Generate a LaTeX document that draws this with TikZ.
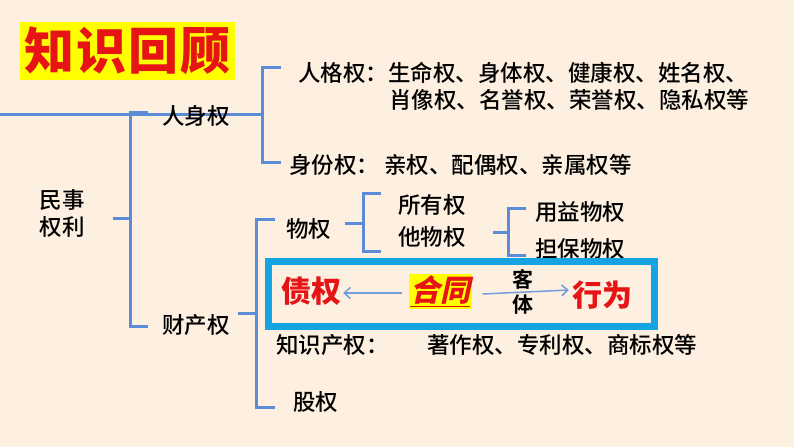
\documentclass[tikz,border=0pt]{standalone}
\usepackage{fontspec}
\setmainfont{Noto Sans CJK SC Medium}
\newfontfamily\cuti{Noto Sans CJK SC Black}
\newfontfamily\jiacu{Noto Sans CJK SC Bold}
\newfontfamily\xieti{Noto Sans CJK SC Black}[FakeSlant=0.22]
\usetikzlibrary{arrows.meta}
\definecolor{beige}{RGB}{253,240,224}
\definecolor{zhixian}{RGB}{92,140,214}
\definecolor{kuang}{RGB}{22,163,226}
\definecolor{hongzi}{RGB}{230,20,20}
\definecolor{huang}{RGB}{255,255,0}

\begin{document}
\begin{tikzpicture}[line cap=butt,line join=miter,x=1pt,y=-1pt,
    zhi/.style={line width=3pt,color=zhixian},
    wen/.style={anchor=west,inner sep=0pt,font=\fontsize{22.5}{27}\selectfont},
    hong/.style={inner sep=0pt,text=hongzi,font=\fontsize{30}{34}\cuti},
    jiantou/.style={line width=1.5pt,color=zhixian!85,-{Straight Barb[length=6pt,width=11pt]}}]
    \fill[beige] (0,0) rectangle (794,447);
    \useasboundingbox (0,0) rectangle (794,447);

    % title
    \node[fill=huang,minimum width=215pt,minimum height=58pt,inner sep=0pt,text=hongzi,
          font=\fontsize{50}{50}\cuti] (biaoti) at (127.5,51) {知\hspace{2pt}识\hspace{2pt}回\hspace{2pt}顾};

    % bracket corners
    \coordinate (zuo) at (0,114);
    \coordinate (mA) at (130,112);
    \coordinate (mB) at (130,326);
    \coordinate (mM) at (130,218);
    \coordinate (rA) at (262,67);
    \coordinate (rB) at (262,162);
    \coordinate (rM) at (262,114);
    \coordinate (cA) at (256,219);
    \coordinate (cB) at (256,407);
    \coordinate (cM) at (256,313);
    \coordinate (wA) at (363,193);
    \coordinate (wB) at (363,251);
    \coordinate (wM) at (363,223);
    \coordinate (tA) at (508,208);
    \coordinate (tB) at (508,255);
    \coordinate (tM) at (508,232);

    \draw[zhi] (zuo) -- (rM);
    \draw[zhi] ([xshift=18pt]mA) -- (mA) -- (mB) -- ([xshift=18pt]mB);
    \draw[zhi] ([xshift=-17pt]mM) -- (mM);
    \draw[zhi] ([xshift=19pt]rA) -- (rA) -- (rB) -- ([xshift=19pt]rB);
    \draw[zhi] ([xshift=19pt]cA) -- (cA) -- (cB) -- ([xshift=19pt]cB);
    \draw[zhi] ([xshift=-18pt]cM) -- (cM);
    \draw[zhi] ([xshift=18pt]wA) -- (wA) -- (wB) -- ([xshift=18pt]wB);
    \draw[zhi] ([xshift=-18pt]wM) -- (wM);
    \draw[zhi] ([xshift=18pt]tA) -- (tA) -- (tB) -- ([xshift=18pt]tB);
    \draw[zhi] ([xshift=-15pt]tM) -- (tM);

    % texts
    \node[inner sep=0pt,align=center,font=\fontsize{22.5}{27}\selectfont] (minshi) at (62,214) {民事\\权利};
    \node[wen] (renshen) at (162,116) {人身权};
    \node[wen] (renge) at (298,73) {人格权：生命权、身体权、健康权、姓名权、};
    \node[wen] (renge2) at (389,100) {肖像权、名誉权、荣誉权、隐私权等};
    \node[wen] (shenfen) at (289,165) {身份权：\hspace{5pt}亲权、配偶权、亲属权等};
    \node[wen] (caichan) at (162,325) {财产权};
    \node[wen] (wuquan) at (286,229) {物权};
    \node[wen] (suoyou) at (398,205) {所有权};
    \node[wen] (tawu) at (398,237) {他物权};
    \node[wen] (yongyi) at (535,212) {用益物权};
    \node[wen] (danbao) at (535,249) {担保物权};
    \node[wen] (zhishi) at (276,345) {知识产权：};
    \node[wen] (zhuzuo) at (427,345) {著作权、专利权、商标权等};
    \node[wen] (guquan) at (293,402) {股权};

    % box
    \draw[line width=7pt,color=kuang,fill=beige] (268.5,261.5) rectangle (654.5,326.5);
    \node[hong] (zhaiquan) at (311,291) {债权};
    \node[hong,fill=huang,minimum width=63pt,minimum height=35pt,font=\fontsize{30}{34}\xieti]
        (hetong) at (440,291) {\underline{合同}};
    \node[hong] (xingwei) at (602,295) {行为};
    \node[inner sep=0pt,align=center,font=\fontsize{21}{25}\jiacu] (keti) at (523,292) {客\\体};
    \draw[jiantou] ([xshift=-6pt,yshift=-2pt]hetong.west) -- ([xshift=2pt,yshift=-2pt]zhaiquan.east);
    \draw[jiantou] ([xshift=11pt,yshift=-3pt]hetong.east) -- ([xshift=-3pt,yshift=1pt]xingwei.west |- hetong.east);
\end{tikzpicture}
\end{document}
